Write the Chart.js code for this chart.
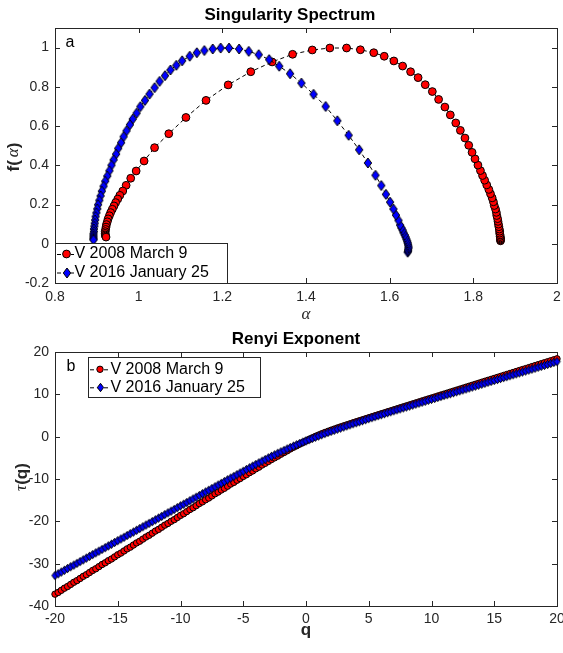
<!DOCTYPE html>
<html>
<head>
<meta charset="utf-8">
<title>Singularity Spectrum / Renyi Exponent</title>
<script src="https://cdn.jsdelivr.net/npm/chart.js@4.4.1/dist/chart.umd.min.js"></script>
<style>
  html, body { margin: 0; padding: 0; background: #fff; }
  #specBox, #renyiBox { position: absolute; left: 0; }
  #specBox { top: 0; }
  #renyiBox { top: 326px; }
  canvas { display: block; }
</style>
</head>
<body>
<div id="specBox"><canvas id="spec" width="563" height="326"></canvas></div>
<div id="renyiBox"><canvas id="renyi" width="563" height="327"></canvas></div>
<script>
// ---- data ----
const seriesLabels = ['V 2008 March 9', 'V 2016 January 25'];

// panel a: singularity spectrum, points from q = -20 (right end) to q = 20 (left end)
const alpha2008 = [
  1.865, 1.865, 1.865, 1.865, 1.864, 1.864, 1.863, 1.863, 1.862, 1.861, 1.860, 1.859, 1.858, 1.856, 1.855, 1.853, 1.850, 1.848, 1.845, 1.841, 1.837, 1.832, 1.827, 1.822, 1.817, 1.811,
  1.804, 1.797, 1.789, 1.780, 1.769, 1.758, 1.745, 1.732, 1.717, 1.702, 1.685, 1.668, 1.650, 1.631, 1.610, 1.587, 1.562, 1.530, 1.497,
  1.457, 1.415, 1.368, 1.319, 1.268, 1.214, 1.161, 1.113, 1.072, 1.038, 1.013, 0.994, 0.981, 0.970, 0.962, 0.955, 0.950, 0.945, 0.941, 0.937, 0.933, 0.930, 0.927, 0.925, 0.923, 0.922, 0.921, 0.920, 0.920, 0.920, 0.921, 0.922
];
const f2008 = [
  0.015, 0.019, 0.024, 0.030, 0.037, 0.045, 0.054, 0.064, 0.075, 0.087, 0.100, 0.114, 0.128, 0.144, 0.160, 0.177, 0.195, 0.214, 0.234, 0.255, 0.277, 0.300, 0.324, 0.348, 0.373, 0.401,
  0.433, 0.466, 0.502, 0.539, 0.578, 0.616, 0.657, 0.697, 0.736, 0.776, 0.811, 0.847, 0.877, 0.906, 0.932, 0.956, 0.974, 0.989, 0.998,
  0.998, 0.988, 0.966, 0.927, 0.877, 0.810, 0.731, 0.644, 0.561, 0.490, 0.422, 0.371, 0.334, 0.298, 0.269, 0.247, 0.228, 0.210, 0.193, 0.176, 0.159, 0.143, 0.127, 0.112, 0.098, 0.085, 0.073, 0.062, 0.053, 0.045, 0.039, 0.034
];
const alpha2016 = [
  1.643, 1.644, 1.644, 1.645, 1.645, 1.644, 1.643, 1.642, 1.640, 1.638, 1.636, 1.633, 1.631, 1.628, 1.625,
  1.621, 1.615, 1.609, 1.601, 1.591, 1.580, 1.566, 1.548, 1.527, 1.502, 1.475, 1.447, 1.418, 1.389, 1.362, 1.336, 1.312, 1.287, 1.263, 1.240,
  1.216, 1.196, 1.177, 1.157, 1.139, 1.122, 1.104, 1.090, 1.076, 1.063, 1.050, 1.038, 1.026, 1.015, 1.004, 0.995, 0.986, 0.979, 0.971, 0.964, 0.958, 0.951, 0.946, 0.940,
  0.935, 0.930, 0.925, 0.920, 0.916, 0.912, 0.909, 0.906, 0.903, 0.901, 0.899, 0.897, 0.896, 0.895, 0.894, 0.893, 0.893, 0.892, 0.892, 0.892, 0.892, 0.892
];
const f2016 = [
  -0.043, -0.037, -0.030, -0.022, -0.014, -0.005, 0.004, 0.013, 0.023, 0.034, 0.045, 0.057, 0.069, 0.081, 0.095,
  0.119, 0.146, 0.177, 0.212, 0.252, 0.297, 0.349, 0.412, 0.479, 0.553, 0.627, 0.700, 0.762, 0.819, 0.867, 0.905, 0.939, 0.964, 0.981, 0.993,
  0.998, 0.998, 0.993, 0.985, 0.974, 0.956, 0.933, 0.910, 0.886, 0.857, 0.828, 0.796, 0.763, 0.731, 0.699, 0.666, 0.636, 0.607, 0.576, 0.546, 0.515, 0.486, 0.457, 0.428,
  0.400, 0.372, 0.345, 0.319, 0.293, 0.268, 0.244, 0.221, 0.199, 0.178, 0.158, 0.139, 0.121, 0.104, 0.089, 0.075, 0.062, 0.051, 0.041, 0.032, 0.025, 0.020
];

// panel b: Renyi exponent tau(q)
const q = [
  -20, -19.75, -19.5, -19.25, -19, -18.75, -18.5, -18.25, -18, -17.75, -17.5, -17.25, -17, -16.75, -16.5, -16.25,
  -16, -15.75, -15.5, -15.25, -15, -14.75, -14.5, -14.25, -14, -13.75, -13.5, -13.25, -13, -12.75, -12.5, -12.25,
  -12, -11.75, -11.5, -11.25, -11, -10.75, -10.5, -10.25, -10, -9.75, -9.5, -9.25, -9, -8.75, -8.5, -8.25,
  -8, -7.75, -7.5, -7.25, -7, -6.75, -6.5, -6.25, -6, -5.75, -5.5, -5.25, -5, -4.75, -4.5, -4.25,
  -4, -3.75, -3.5, -3.25, -3, -2.75, -2.5, -2.25, -2, -1.75, -1.5, -1.25, -1, -0.75, -0.5, -0.25,
  0,
  0.25, 0.5, 0.75, 1, 1.25, 1.5, 1.75, 2, 2.25, 2.5, 2.75, 3, 3.25, 3.5, 3.75, 4,
  4.25, 4.5, 4.75, 5, 5.25, 5.5, 5.75, 6, 6.25, 6.5, 6.75, 7, 7.25, 7.5, 7.75, 8,
  8.25, 8.5, 8.75, 9, 9.25, 9.5, 9.75, 10, 10.25, 10.5, 10.75, 11, 11.25, 11.5, 11.75, 12,
  12.25, 12.5, 12.75, 13, 13.25, 13.5, 13.75, 14, 14.25, 14.5, 14.75, 15, 15.25, 15.5, 15.75, 16,
  16.25, 16.5, 16.75, 17, 17.25, 17.5, 17.75, 18, 18.25, 18.5, 18.75, 19, 19.25, 19.5, 19.75, 20
];
const tau2008 = [
  -37.2, -36.8, -36.3, -35.8, -35.4, -34.9, -34.4, -34.0, -33.5, -33.0, -32.6, -32.1, -31.6, -31.2, -30.7, -30.2,
  -29.8, -29.3, -28.9, -28.4, -27.9, -27.5, -27.0, -26.5, -26.1, -25.6, -25.1, -24.7, -24.2, -23.7, -23.3, -22.8,
  -22.3, -21.9, -21.4, -20.9, -20.5, -20.0, -19.6, -19.1, -18.6, -18.2, -17.7, -17.2, -16.8, -16.3, -15.8, -15.4,
  -14.9, -14.5, -14.0, -13.5, -13.1, -12.6, -12.2, -11.7, -11.2, -10.8, -10.3, -9.9, -9.4, -9.0, -8.5, -8.1,
  -7.6, -7.2, -6.7, -6.3, -5.85, -5.4, -5.0, -4.6, -4.15, -3.75, -3.35, -2.9, -2.5, -2.14, -1.75, -1.37,
  -1.0,
  -0.64, -0.29, 0.05, 0.37, 0.68, 0.98, 1.26, 1.53, 1.79, 2.05, 2.30, 2.55, 2.79, 3.03, 3.27, 3.51,
  3.75, 3.98, 4.22, 4.46, 4.69, 4.93, 5.16, 5.40, 5.63, 5.87, 6.10, 6.34, 6.57, 6.81, 7.04, 7.27,
  7.50, 7.74, 7.97, 8.20, 8.44, 8.67, 8.90, 9.13, 9.36, 9.60, 9.83, 10.06, 10.29, 10.53, 10.76, 10.99,
  11.22, 11.45, 11.69, 11.92, 12.15, 12.38, 12.61, 12.85, 13.08, 13.31, 13.54, 13.77, 14.00, 14.23, 14.47, 14.70,
  14.93, 15.16, 15.39, 15.62, 15.85, 16.08, 16.31, 16.55, 16.78, 17.01, 17.24, 17.47, 17.70, 17.93, 18.16, 18.39
];
const tau2016 = [
  -32.80, -32.39, -31.98, -31.56, -31.15, -30.74, -30.33, -29.92, -29.51, -29.10, -28.69, -28.27, -27.86, -27.45, -27.04, -26.63,
  -26.22, -25.81, -25.40, -24.99, -24.58, -24.17, -23.76, -23.34, -22.93, -22.52, -22.11, -21.70, -21.29, -20.88, -20.47, -20.06,
  -19.65, -19.24, -18.83, -18.41, -18.00, -17.59, -17.18, -16.77, -16.36, -15.95, -15.54, -15.13, -14.72, -14.31, -13.90, -13.48,
  -13.07, -12.66, -12.25, -11.84, -11.43, -11.02, -10.61, -10.20, -9.79, -9.38, -8.98, -8.57, -8.17, -7.77, -7.37, -6.97,
  -6.57, -6.18, -5.79, -5.40, -5.02, -4.65, -4.29, -3.93, -3.58, -3.24, -2.90, -2.57, -2.24, -1.92, -1.61, -1.30,
  -1.00,
  -0.70, -0.41, -0.12, 0.16, 0.44, 0.72, 0.99, 1.25, 1.51, 1.77, 2.03, 2.29, 2.54, 2.79, 3.04, 3.28,
  3.52, 3.76, 4.00, 4.25, 4.49, 4.72, 4.96, 5.19, 5.42, 5.65, 5.88, 6.11, 6.34, 6.56, 6.79, 7.01,
  7.24, 7.46, 7.69, 7.91, 8.14, 8.36, 8.59, 8.81, 9.03, 9.26, 9.48, 9.71, 9.93, 10.15, 10.38, 10.60,
  10.82, 11.05, 11.27, 11.50, 11.72, 11.94, 12.17, 12.39, 12.61, 12.84, 13.06, 13.28, 13.50, 13.73, 13.95, 14.17,
  14.39, 14.62, 14.84, 15.06, 15.28, 15.51, 15.73, 15.95, 16.17, 16.40, 16.62, 16.85, 17.07, 17.29, 17.52, 17.74
];

const alphaTicks = [0.8, 1, 1.2, 1.4, 1.6, 1.8, 2];
const fTicks = [-0.2, 0, 0.2, 0.4, 0.6, 0.8, 1];
const qTicks = [-20, -15, -10, -5, 0, 5, 10, 15, 20];
const tauTicks = [-40, -30, -20, -10, 0, 10, 20];

// ---- look ----
const SANS = '"Liberation Sans", Arial, sans-serif';
const SERIF = '"Liberation Serif", "Times New Roman", serif';
const INK = '#262626';
const RED = '#ff0000';
const BLUE = '#0000ff';

// matlab style diamond marker (taller than wide)
function makeDiamond(hw, hh, fill) {
  const c = document.createElement('canvas');
  c.width = Math.ceil(2 * hw + 2);
  c.height = Math.ceil(2 * hh + 2);
  const g = c.getContext('2d');
  const cx = c.width / 2, cy = c.height / 2;
  g.beginPath();
  g.moveTo(cx, cy - hh);
  g.lineTo(cx + hw, cy);
  g.lineTo(cx, cy + hh);
  g.lineTo(cx - hw, cy);
  g.closePath();
  g.fillStyle = fill;
  g.fill();
  g.strokeStyle = '#000';
  g.lineWidth = 1;
  g.stroke();
  return c;
}

// text made of pieces in different fonts, centred on (x, y)
function drawParts(ctx, parts, x, y, rotate) {
  ctx.save();
  ctx.translate(x, y);
  if (rotate) ctx.rotate(-Math.PI / 2);
  ctx.textBaseline = 'middle';
  ctx.textAlign = 'left';
  let total = 0;
  const widths = parts.map(p => {
    if (p.gap != null) return p.gap;
    ctx.font = p.font;
    return ctx.measureText(p.text).width;
  });
  widths.forEach(w => { total += w; });
  let cx = -total / 2;
  parts.forEach((p, i) => {
    if (p.text) {
      ctx.font = p.font;
      ctx.fillStyle = p.color || INK;
      ctx.fillText(p.text, cx, 0);
    }
    cx += widths[i];
  });
  ctx.restore();
}

const matlabLook = {
  id: 'matlabLook',
  beforeDatasetsDraw(chart, args, o) {
    const { ctx, chartArea: a, scales } = chart;
    ctx.save();
    ctx.strokeStyle = INK;
    ctx.lineWidth = 1;
    ctx.beginPath();
    scales.x.ticks.forEach(t => {
      const px = Math.round(scales.x.getPixelForValue(t.value)) + 0.5;
      ctx.moveTo(px, a.bottom);
      ctx.lineTo(px, a.bottom - o.tick);
      ctx.moveTo(px, a.top);
      ctx.lineTo(px, a.top + o.tick);
    });
    scales.y.ticks.forEach(t => {
      const py = Math.round(scales.y.getPixelForValue(t.value)) + 0.5;
      ctx.moveTo(a.left, py);
      ctx.lineTo(a.left + o.tick, py);
      ctx.moveTo(a.right, py);
      ctx.lineTo(a.right - o.tick, py);
    });
    ctx.stroke();
    ctx.strokeRect(a.left + 0.5, a.top + 0.5, a.width, a.height);
    ctx.restore();
  },
  afterDatasetsDraw(chart, args, o) {
    const { ctx } = chart;
    const L = o.legend;
    ctx.save();
    ctx.fillStyle = '#fff';
    ctx.fillRect(L.x, L.y, L.w, L.h);
    ctx.strokeStyle = INK;
    ctx.lineWidth = 1;
    ctx.strokeRect(L.x + 0.5, L.y + 0.5, L.w, L.h);
    chart.data.datasets.forEach((ds, i) => {
      const ry = L.rows[i];
      ctx.strokeStyle = '#000';
      ctx.setLineDash([4, 3]);
      ctx.beginPath();
      ctx.moveTo(L.line[0], ry + 0.5);
      ctx.lineTo(L.line[1], ry + 0.5);
      ctx.stroke();
      ctx.setLineDash([]);
      if (typeof ds.pointStyle === 'object') {
        const img = ds.pointStyle;
        ctx.drawImage(img, Math.round(L.mark - img.width / 2), Math.round(ry - img.height / 2));
      } else {
        ctx.beginPath();
        ctx.arc(L.mark, ry, ds.pointRadius, 0, Math.PI * 2);
        ctx.fillStyle = ds.pointBackgroundColor;
        ctx.fill();
        ctx.stroke();
      }
      ctx.fillStyle = '#000';
      ctx.font = '16px ' + SANS;
      ctx.textBaseline = 'middle';
      ctx.textAlign = 'left';
      ctx.fillText(ds.label, L.text, ry);
    });
    ctx.fillStyle = '#000';
    ctx.font = '16px ' + SANS;
    ctx.textAlign = 'center';
    ctx.textBaseline = 'middle';
    ctx.fillText(o.letter.text, o.letter.x, o.letter.y);
    ctx.restore();
  },
  afterDraw(chart, args, o) {
    const { ctx } = chart;
    drawParts(ctx, o.title.parts, o.title.x, o.title.y, false);
    drawParts(ctx, o.xLabel.parts, o.xLabel.x, o.xLabel.y, false);
    drawParts(ctx, o.yLabel.parts, o.yLabel.x, o.yLabel.y, true);
  }
};

function linearAxis(min, max, tickValues, opts) {
  return {
    type: 'linear',
    min: min,
    max: max,
    grid: { display: false, drawTicks: false },
    border: { display: false },
    ticks: {
      font: { family: SANS, size: 14 },
      color: INK,
      padding: opts.padding,
      maxRotation: 0,
      autoSkip: false,
      callback: v => String(v)
    },
    afterBuildTicks: s => { s.ticks = tickValues.map(v => ({ value: v })); },
    afterFit: s => {
      if (opts.width != null) s.width = opts.width;
      if (opts.height != null) s.height = opts.height;
      s.paddingLeft = 0; s.paddingRight = 0; s.paddingTop = 0; s.paddingBottom = 0;
    }
  };
}

function series(label, data, marker, size, fill, order) {
  return {
    label: label,
    data: data,
    showLine: true,
    borderColor: '#000',
    borderWidth: 1,
    borderDash: [4, 3],
    pointStyle: marker,
    pointRadius: size,
    pointBackgroundColor: fill,
    pointBorderColor: '#000',
    pointBorderWidth: 1,
    clip: false,
    order: order
  };
}

const diamondA = makeDiamond(3.7, 5, BLUE);
const diamondB = makeDiamond(3.1, 4.2, BLUE);

const common = {
  responsive: false,
  animation: false,
  devicePixelRatio: 1,
  events: []
};

new Chart(document.getElementById('spec'), {
  type: 'scatter',
  data: {
    datasets: [
      series(seriesLabels[0], alpha2008.map((a, i) => ({ x: a, y: f2008[i] })), 'circle', 3.9, RED, 1),
      series(seriesLabels[1], alpha2016.map((a, i) => ({ x: a, y: f2016[i] })), diamondA, 4.5, BLUE, 0)
    ]
  },
  options: Object.assign({}, common, {
    layout: { padding: { top: 28, right: 6, bottom: 0, left: 0 } },
    scales: {
      x: linearAxis(0.8, 2, alphaTicks, { height: 43, padding: 6 }),
      y: linearAxis(-0.2, 1.1, fTicks, { width: 55, padding: 6 })
    },
    plugins: {
      legend: { display: false },
      tooltip: { enabled: false },
      title: { display: false },
      matlabLook: {
        tick: 5,
        title: { x: 290, y: 15, parts: [{ text: 'Singularity Spectrum', font: 'bold 17px ' + SANS, color: '#000' }] },
        xLabel: { x: 306, y: 315, parts: [{ text: 'α', font: 'italic 17px ' + SERIF }] },
        yLabel: { x: 14, y: 157, parts: [
          { text: 'f(', font: 'bold 17px ' + SANS }, { gap: 3 },
          { text: 'α', font: 'italic 17px ' + SERIF }, { text: ')', font: 'bold 17px ' + SANS }
        ] },
        letter: { text: 'a', x: 70, y: 43 },
        legend: { x: 55, y: 243, w: 172, h: 40, rows: [254, 272.5], line: [57, 74], mark: 66.5, text: 74.5 }
      }
    }
  }),
  plugins: [matlabLook]
});

new Chart(document.getElementById('renyi'), {
  type: 'scatter',
  data: {
    datasets: [
      series(seriesLabels[0], q.map((v, i) => ({ x: v, y: tau2008[i] })), 'circle', 3.2, RED, 1),
      series(seriesLabels[1], q.map((v, i) => ({ x: v, y: tau2016[i] })), diamondB, 3.8, BLUE, 0)
    ]
  },
  options: Object.assign({}, common, {
    layout: { padding: { top: 26, right: 6, bottom: 0, left: 0 } },
    scales: {
      x: linearAxis(-20, 20, qTicks, { height: 47, padding: 5 }),
      y: linearAxis(-40, 20, tauTicks, { width: 55, padding: 6 })
    },
    plugins: {
      legend: { display: false },
      tooltip: { enabled: false },
      title: { display: false },
      matlabLook: {
        tick: 5,
        title: { x: 296, y: 13, parts: [{ text: 'Renyi Exponent', font: 'bold 17px ' + SANS, color: '#000' }] },
        xLabel: { x: 306, y: 304, parts: [{ text: 'q', font: 'bold 17px ' + SANS }] },
        yLabel: { x: 22, y: 151, parts: [
          { text: 'τ', font: 'italic 17px ' + SERIF }, { text: '(q)', font: 'bold 17px ' + SANS }
        ] },
        letter: { text: 'b', x: 71, y: 41 },
        legend: { x: 88, y: 31, w: 172, h: 40, rows: [43.3, 61.3], line: [90, 110], mark: 100, text: 110.5 }
      }
    }
  }),
  plugins: [matlabLook]
});
</script>
</body>
</html>
